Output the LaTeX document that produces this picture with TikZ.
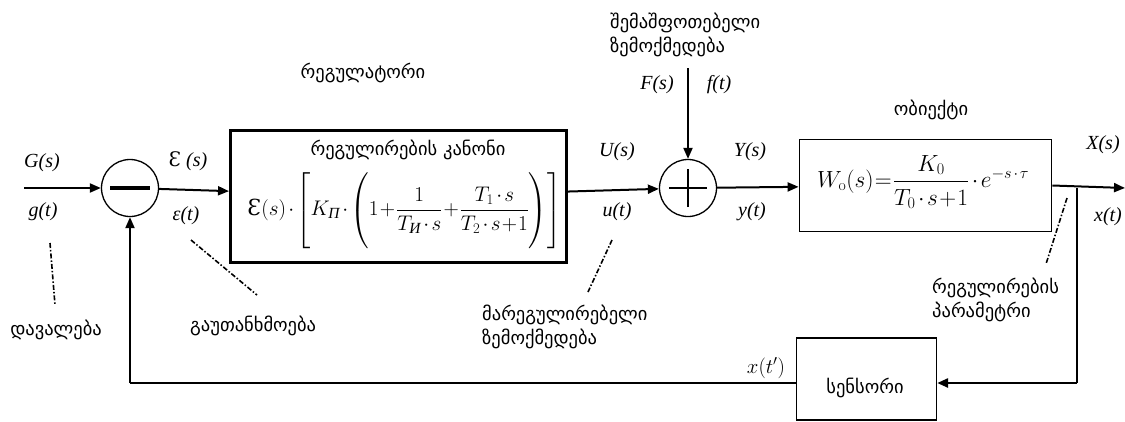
\documentclass[tikz,border=0pt]{standalone}
\usepackage{fontspec}
\usepackage{graphicx}
\usepackage{amsmath}
\usetikzlibrary{arrows.meta}
\newfontfamily\geo{DejaVu Sans}
\newfontfamily\tms{Liberation Serif}
\newfontfamily\dvs{DejaVu Serif}
\newcommand{\tcd}{\mathbin{\mkern-2mu\cdot\mkern-2mu}}
\newcommand{\tpl}{\mathbin{\mkern-3mu+\mkern-3mu}}
\newcommand{\bigstrut}{\rule[-38pt]{0pt}{90pt}}
\newcommand{\midstrut}{\rule[-35pt]{0pt}{84pt}}
\begin{document}
\begin{tikzpicture}[x=1pt,y=-1pt,
  arr/.style={line width=2pt,-{Triangle[length=11pt,width=9pt]}},
  ln/.style={line width=2pt},
  dd/.style={line width=1.6pt,dash pattern=on 5pt off 2pt on 1.5pt off 2pt},
  geolbl/.style={font=\geo\fontsize{18.5}{24}\selectfont, inner sep=0pt},
  geoleft/.style={geolbl, align=left, anchor=west},
  var/.style={font=\tms\itshape\fontsize{20}{24}\selectfont, inner sep=0pt},
  sumnode/.style={circle,draw,line width=1.3pt,minimum size=57pt,inner sep=0pt},
  regbox/.style={draw,line width=3pt,inner sep=0pt},
  objbox/.style={draw,line width=1.8pt,inner sep=0pt},
  senbox/.style={draw,line width=1.3pt,inner sep=0pt}]
\useasboundingbox (0,0) rectangle (1125,421);
% blocks
\node[sumnode] (sum1) at (130,188) {};
\draw[line width=4.5pt] ([xshift=-20pt]sum1.center) -- ([xshift=20pt]sum1.center);
\node[regbox, minimum width=336pt, minimum height=132pt] (reg) at (398.5,196.5) {};
\node[sumnode] (sum2) at (688,188) {};
\draw[line width=1.3pt] ([xshift=-19pt]sum2.center) -- ([xshift=19pt]sum2.center)
  ([yshift=-19pt]sum2.center) -- ([yshift=19pt]sum2.center);
\node[objbox, minimum width=252pt, minimum height=92pt] (obj) at (925.5,185.5) {};
\node[senbox, minimum width=140pt, minimum height=82pt] (sen) at (866.5,379) {};
% coordinates
\coordinate (in) at (24,188);
\coordinate (out) at (1125,188);
\coordinate (br) at (1077,188);
\coordinate (brb) at (1077,383);
\coordinate (fbl) at (130,383);
\coordinate (ftop) at (688,68);
% connectors
\draw[arr] (in) -- (sum1);
\draw[arr] (sum1) -- (reg);
\draw[arr] (reg) -- (sum2);
\draw[arr] (ftop) -- (sum2);
\draw[arr] (sum2) -- (obj);
\draw[arr] (obj.east) -- (out);
\draw[ln] (br) -- (brb);
\draw[arr,line width=2.6pt] (brb) -- (sen.east |- brb);
\draw[ln] (sen.west |- fbl) -- (fbl);
\draw[arr] (fbl) -- (sum1.south);
% formulas
\node[inner sep=0pt] (law) at (404.5,210) {\resizebox{314pt}{!}{\fontsize{26}{30}\selectfont$\text{\dvs Ɛ}(s)\tcd\left[\bigstrut K_{\text{\tms\itshape П}}\tcd\left(\midstrut1\tpl\dfrac{1}{T_{\text{\tms\itshape И}}\tcd s}\tpl\dfrac{T_1\tcd s}{T_2\tcd s\tpl1}\right)\right]$}};
\node[inner sep=0pt] (wf) at (923,182) {\resizebox{212pt}{!}{\fontsize{24}{28}\selectfont$W_{\mathrm{o}}(s)\mathrel{\mkern-4mu=\mkern-4mu}\dfrac{K_0\rule[-6pt]{0pt}{0pt}}{\rule{0pt}{22pt}T_0\tcd s\tpl1}\tcd e^{\text{\fontsize{19}{19}\selectfont$-s\tcd\tau$}}$}};
% variable labels
\node[var] (Gs) at (42,163) {G(s)};
\node[var] (gt) at (43,212) {g(t)};
\node[var] (Es) at (188,161) {{\dvs\upshape Ɛ} (s)};
\node[var] (et) at (186,216) {ε(t)};
\node[var] (Us) at (617,152) {U(s)};
\node[var] (ut) at (617,212) {u(t)};
\node[var] (Fs) at (657,85) {F(s)};
\node[var] (ft) at (719,85) {f(t)};
\node[var] (Ys) at (750,152) {Y(s)};
\node[var] (yt) at (752,212) {y(t)};
\node[var] (Xs) at (1103,145) {X(s)};
\node[var] (xt) at (1108,217) {x(t)};
\node[inner sep=0pt] (xtp) at (766,368) {\fontsize{21}{24}\selectfont$x(t')$};
% georgian labels
\node[geolbl] (lreg) at (363,73) {რეგულატორი};
\node[geolbl] (llaw) at (408,150) {რეგულირების კანონი};
\node[geolbl] (lobj) at (931,110) {ობიექტი};
\node[geolbl] (lsen) at (865,388) {სენსორი};
\node[geolbl] (ltask) at (56,330) {დავალება};
\node[geoleft] (lerr) at (190,326) {გაუთანხმოება};
\node[geoleft] (ldist) at (610,35) {შემაშფოთებელი\\ზემოქმედება};
\node[geoleft] (lctrl) at (482,327) {მარეგულირებელი\\ზემოქმედება};
\node[geoleft] (lpar) at (932,300) {რეგულირების\\პარამეტრი};
% dash-dot pointers
\coordinate (p1a) at (50,243); \coordinate (p1b) at (55,305);
\draw[dd] (p1a) -- (p1b);
\coordinate (p2a) at (191,240); \coordinate (p2b) at (257,295);
\draw[dd] (p2a) -- (p2b);
\coordinate (p3a) at (612,240); \coordinate (p3b) at (588,292);
\draw[dd] (p3a) -- (p3b);
\coordinate (p4a) at (1067,198); \coordinate (p4b) at (1046,264);
\draw[dd] (p4a) -- (p4b);
\end{tikzpicture}
\end{document}
